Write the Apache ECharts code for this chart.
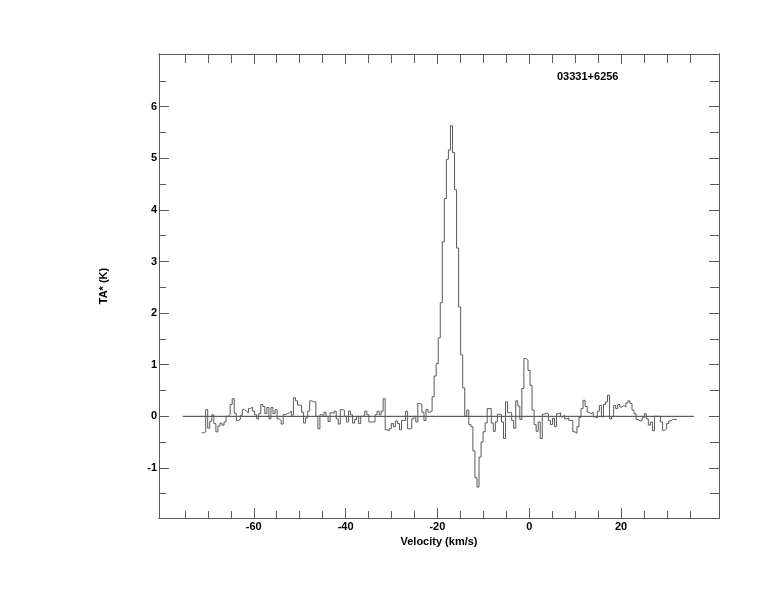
<!DOCTYPE html>
<html>
<head>
<meta charset="utf-8">
<script src="https://cdn.jsdelivr.net/npm/echarts@6.0.0/dist/echarts.min.js"></script>
<style>
  html, body { margin: 0; padding: 0; background: #ffffff; }
  #chart { width: 774px; height: 612px; }
</style>
</head>
<body>
<div id="chart"></div>
<script>
// ---- Data ----
const SOURCE_NAME = '03331+6256';
const X_TITLE = 'Velocity (km/s)';
const Y_TITLE = 'TA* (K)';

// channel grid of the spectrum (left edge of first channel, channel width, km/s)
const CHANNEL_START = -71.37;
const CHANNEL_WIDTH = 0.4444;

// antenna temperature per channel (K), left to right
const tempBlueWing = [
  -0.32, -0.30, 0.13, -0.23, -0.10, 0.03, -0.14, -0.30, -0.19, -0.13,
  -0.17, -0.11, 0.00, 0.03, 0.23, 0.34, 0.06, -0.08, -0.06, 0.02,
  0.13, 0.10, 0.07, 0.15, 0.18, 0.10, 0.03, -0.05, 0.05, 0.23,
  0.19, 0.05, 0.17, -0.05, 0.17, 0.05, 0.13, -0.05, -0.08, -0.15,
  0.03, 0.05, 0.07, 0.10, 0.02, 0.36
];
const tempMidNoise = [
  0.30, 0.22, 0.21, 0.08, -0.13, -0.03, 0.10, 0.30, 0.28, 0.28,
  0.00, -0.24, 0.03, 0.02, 0.08, 0.00, -0.10, 0.07, 0.06, 0.10,
  -0.05, -0.15, 0.13, 0.12, 0.00, -0.11, 0.10, 0.03, -0.13, -0.06,
  0.00, -0.14, 0.00, 0.02, 0.10, 0.03, -0.11, -0.11, -0.11, 0.03,
  0.10, 0.03, 0.10, 0.34
];
const tempPrePeak = [
  -0.26, -0.28, -0.24, -0.14, -0.20, -0.09, -0.14, -0.26, -0.08, -0.08,
  0.10, -0.24, -0.24, -0.05, 0.00, -0.11, 0.25, 0.23, 0.08, -0.08,
  0.13, 0.08, 0.10, 0.38
];
const tempMainPeak = [
  0.78, 1.02, 1.52, 2.20, 3.38, 4.22, 4.98, 5.16, 5.63, 5.11,
  4.39, 3.26, 2.12, 1.19, 0.55, 0.00, 0.12, -0.16, -0.20, -0.67,
  -1.19, -1.37, -0.79, -0.50, -0.30, -0.13, 0.15, 0.15, -0.13, -0.29,
  -0.11, 0.04, 0.04, -0.11, -0.43, 0.28, 0.07, 0.07, -0.08, -0.23,
  0.30, 0.20, -0.06, 0.54, 1.12, 1.09, 0.89, 0.60, 0.12, -0.16,
  -0.29, -0.11, -0.43
];
const tempRedWing = [
  0.04, 0.06, 0.05, -0.08, -0.16, -0.04, -0.20, 0.05, 0.07, -0.01,
  0.02, -0.05, -0.03, -0.08, -0.08, -0.30, -0.33, -0.20, -0.02, 0.15,
  0.31, 0.19, 0.08, 0.05, 0.08, -0.01, -0.03, 0.10, 0.21, -0.01,
  0.23, 0.28, 0.41, -0.05, -0.01, 0.21, 0.15, 0.23, 0.18, 0.21,
  0.18, 0.26, 0.30, 0.25, 0.12, 0.05, -0.06, -0.09, -0.08, -0.03,
  0.05, -0.05, -0.17, -0.11, -0.28, 0.00, 0.00, 0.00, -0.11, -0.27,
  -0.24, -0.14, -0.09, -0.06, -0.06, -0.06
];

// zero baseline drawn across the spectrum (km/s)
const BASELINE_RANGE = [-75.5, 35.9];

// axes
const X_RANGE = [-80.65, 41.35];
const Y_RANGE = [-1.97, 7.02];
const X_LABELS = [-60, -40, -20, 0, 20];
const X_MINOR = [-75, -70, -65, -55, -50, -45, -35, -30, -25, -15, -10, -5, 5, 10, 15, 25, 30, 35];
const Y_LABELS = [-1, 0, 1, 2, 3, 4, 5, 6];
const Y_MINOR = [-1.5, -0.5, 0.5, 1.5, 2.5, 3.5, 4.5, 5.5, 6.5];

// ---- Build ----
const temps = [].concat(tempBlueWing, tempMidNoise, tempPrePeak, tempMainPeak, tempRedWing);
const stepData = temps.map((t, i) => [CHANNEL_START + i * CHANNEL_WIDTH, t]);
stepData.push([CHANNEL_START + temps.length * CHANNEL_WIDTH, temps[temps.length - 1]]);

const AXIS_COLOR = '#5a5a5a';
const FONT = 'Liberation Sans, Arial, Helvetica, sans-serif';
const labelStyle = { color: '#000', fontFamily: FONT, fontWeight: 'bold', fontSize: 11 };

function xAx(position, ticks, len, labels, extra) {
  return Object.assign({
    type: 'value', gridIndex: 0, position: position,
    min: X_RANGE[0], max: X_RANGE[1],
    axisLine: { show: true, onZero: false, lineStyle: { color: AXIS_COLOR, width: 1 } },
    axisTick: { show: true, inside: true, length: len, customValues: ticks, lineStyle: { color: AXIS_COLOR, width: 1 } },
    axisLabel: labels ? Object.assign({ show: true, customValues: labels, margin: 3 }, labelStyle) : { show: false },
    splitLine: { show: false }
  }, extra || {});
}
function yAx(position, ticks, len, labels, extra) {
  return Object.assign({
    type: 'value', gridIndex: 0, position: position,
    min: Y_RANGE[0], max: Y_RANGE[1],
    axisLine: { show: true, onZero: false, lineStyle: { color: AXIS_COLOR, width: 1 } },
    axisTick: { show: true, inside: true, length: len, customValues: ticks, lineStyle: { color: AXIS_COLOR, width: 1 } },
    axisLabel: labels ? Object.assign({ show: true, customValues: labels, margin: 2 }, labelStyle) : { show: false },
    splitLine: { show: false }
  }, extra || {});
}

const chart = echarts.init(document.getElementById('chart'), null, { renderer: 'canvas' });
chart.setOption({
  animation: false,
  backgroundColor: '#ffffff',
  grid: { left: 159, top: 54, right: 55, bottom: 94, containLabel: false },
  graphic: [{
    type: 'text', left: 557, top: 71,
    style: { text: SOURCE_NAME, fill: '#000', font: 'bold 11px ' + FONT }
  }],
  xAxis: [
    xAx('bottom', X_LABELS, 10, X_LABELS, {
      name: X_TITLE, nameLocation: 'middle', nameGap: 13,
      nameTextStyle: { color: '#000', fontFamily: FONT, fontWeight: 'bold', fontSize: 11, verticalAlign: 'top' }
    }),
    xAx('bottom', X_MINOR, 7, null),
    xAx('top', X_LABELS, 10, null),
    xAx('top', X_MINOR, 9, null)
  ],
  yAxis: [
    yAx('left', Y_LABELS, 10, Y_LABELS, {
      name: Y_TITLE, nameLocation: 'middle', nameGap: 50, nameRotate: 90,
      nameTextStyle: { color: '#000', fontFamily: FONT, fontWeight: 'bold', fontSize: 11 }
    }),
    yAx('left', Y_MINOR, 7, null),
    yAx('right', Y_LABELS, 10, null),
    yAx('right', Y_MINOR, 9, null)
  ],
  series: [
    {
      type: 'line', xAxisIndex: 0, yAxisIndex: 0,
      data: BASELINE_RANGE.map(v => [v, 0]),
      symbol: 'none', silent: true,
      lineStyle: { color: '#3c3c3c', width: 1 }
    },
    {
      type: 'line', xAxisIndex: 0, yAxisIndex: 0,
      data: stepData, step: 'end',
      symbol: 'none', silent: true,
      lineStyle: { color: '#5a5a5a', width: 1 }
    }
  ]
});
</script>
</body>
</html>
